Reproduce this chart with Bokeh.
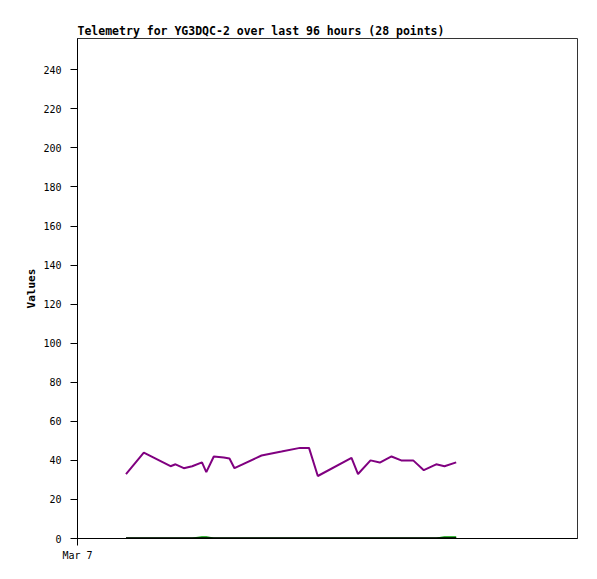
from bokeh.plotting import figure
from bokeh.models import FixedTicker, Range1d
from bokeh.embed import file_html
from bokeh.resources import INLINE

# hours since Mar 7 00:00
hours = [9.31, 12.73, 17.86, 18.82, 20.41, 22.02, 23.90, 24.73, 26.17, 28.09,
         29.18, 30.14, 35.33, 39.17, 42.72, 44.45, 46.14, 52.61, 53.86, 56.26,
         58.04, 60.29, 62.15, 64.45, 66.49, 68.87, 70.46, 72.71]
series_a = [33, 44, 37, 38, 36, 37, 39, 34, 42, 41.5,
            41, 36, 42.5, 44.5, 46.4, 46.4, 32, 41.3, 33, 40,
            38.9, 42, 40, 40, 35, 38, 37, 39]
series_b = [0, 0, 0, 0, 0, 0, 0.7, 0.7, 0, 0,
            0, 0, 0, 0, 0, 0, 0, 0, 0, 0,
            0, 0, 0, 0, 0, 0, 0.7, 0.7]
series_c = [0] * 28
y_ticks = list(range(0, 241, 20))
x_tick_labels = {0: "Mar 7"}
title_text = "Telemetry for YG3DQC-2 over last 96 hours (28 points)"

FONT = "DejaVu Sans Mono"

p = figure(width=589, height=571, output_backend="svg", toolbar_location=None,
           x_range=Range1d(0, 96), y_range=Range1d(0, 256),
           min_border_left=77, min_border_right=12, min_border_top=38,
           min_border_bottom=33, title=title_text)

p.title.text_font = FONT
p.title.text_font_size = "11.5px"
p.title.text_font_style = "bold"
p.title.text_color = "black"
p.title.align = "left"
p.title.standoff = 2
p.title.offset = 0

p.outline_line_color = "black"
p.outline_line_alpha = 0.8
p.xgrid.visible = False
p.ygrid.visible = False
p.background_fill_color = "white"
p.border_fill_color = "white"

p.line(hours, series_b, line_color="#00a000", line_width=2)
p.line(hours, series_c, line_color="black", line_width=2.5)
p.line(hours, series_a, line_color="#800080", line_width=2)

for ax in (p.xaxis[0], p.yaxis[0]):
    ax.axis_line_color = "black"
    ax.major_tick_line_color = "black"
    ax.major_tick_out = 7
    ax.major_tick_in = 0
    ax.minor_tick_out = 0
    ax.minor_tick_in = 0
    ax.major_label_text_font = FONT
    ax.major_label_text_font_size = "10px"
    ax.major_label_text_color = "black"

p.yaxis.ticker = FixedTicker(ticks=y_ticks)
p.yaxis.major_label_standoff = 9
p.yaxis.axis_label = "Values"
p.yaxis.axis_label_text_font = FONT
p.yaxis.axis_label_text_font_size = "11px"
p.yaxis.axis_label_text_font_style = "bold"
p.yaxis.axis_label_standoff = 2
p.yaxis.axis_label_text_color = "black"

p.xaxis.ticker = FixedTicker(ticks=[0])
p.xaxis.major_label_overrides = x_tick_labels
p.xaxis.major_label_standoff = 4

open("out.html", "w").write(file_html(p, INLINE))
